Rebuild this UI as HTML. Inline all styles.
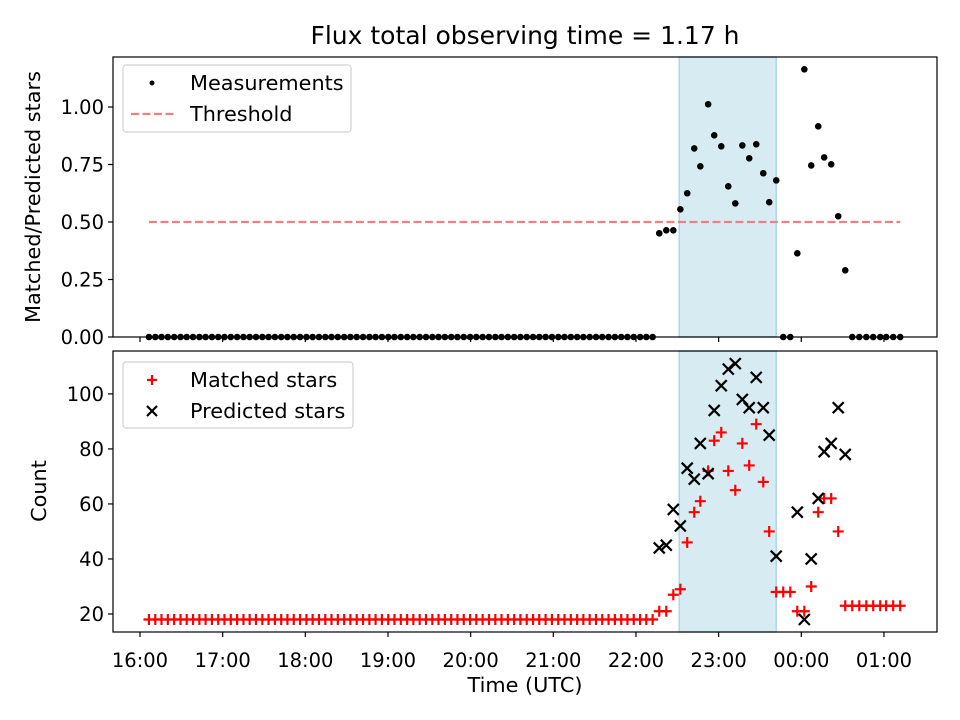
<!DOCTYPE html>
<html><head><meta charset="utf-8">
<style>
html,body{margin:0;padding:0;background:#fff;}
svg{display:block;font-family:"DejaVu Sans","Liberation Sans",sans-serif;}
</style></head>
<body>
<svg id="chart" width="960" height="720" viewBox="0 0 960 720" xmlns="http://www.w3.org/2000/svg">
<text x="525" y="44" font-size="25" text-anchor="middle">Flux total observing time = 1.17 h</text>
<g id="topPanel"></g>
<g id="botPanel"></g>
<text x="525" y="692" font-size="20.8" text-anchor="middle">Time (UTC)</text>
<text transform="translate(40,197) rotate(-90)" font-size="20.8" text-anchor="middle">Matched/Predicted stars</text>
<text transform="translate(46,491) rotate(-90)" font-size="20.8" text-anchor="middle">Count</text>
</svg>
<script>
// minutes after 16:00 UTC
const times = [6.5,11.1,15.6,20.2,24.8,29.4,33.9,38.5,43.1,47.6,52.2,56.8,61.3,65.9,70.5,75.1,79.6,84.2,88.8,93.3,97.9,102.5,107.0,111.6,116.2,120.8,125.3,129.9,134.5,139.0,143.6,148.2,152.7,157.3,161.9,166.5,171.0,175.6,180.2,184.7,189.3,193.9,198.4,203.0,207.6,212.2,216.7,221.3,225.9,230.4,235.0,239.6,244.1,248.7,253.3,257.9,262.4,267.0,271.6,276.1,280.7,285.3,289.8,294.4,299.0,303.6,308.1,312.7,317.3,321.8,326.4,331.0,335.5,340.1,344.7,349.3,353.8,358.4,363.0,367.5,372.1,
376.9,382.0,387.1,392.2,397.2,402.3,406.7,412.4,416.8,421.9,427.0,432.1,437.2,442.2,447.3,452.4,456.7,461.8,466.9,472.0,477.1,482.2,487.2,492.3,496.6,501.7,506.8,511.9,517.0,522.1,527.2,532.2,537.3,541.6,546.7,551.8];
const ratios = [0,0,0,0,0,0,0,0,0,0,0,0,0,0,0,0,0,0,0,0,0,0,0,0,0,0,0,0,0,0,0,0,0,0,0,0,0,0,0,0,0,0,0,0,0,0,0,0,0,0,0,0,0,0,0,0,0,0,0,0,0,0,0,0,0,0,0,0,0,0,0,0,0,0,0,0,0,0,0,0,0,
0.451,0.464,0.464,0.555,0.625,0.820,0.742,1.012,0.877,0.829,0.655,0.581,0.833,0.777,0.838,0.712,0.586,0.681,0,0,0.364,1.164,0.746,0.916,0.781,0.751,0.525,0.290,0,0,0,0,0,0,0,0];
const matched = [18,18,18,18,18,18,18,18,18,18,18,18,18,18,18,18,18,18,18,18,18,18,18,18,18,18,18,18,18,18,18,18,18,18,18,18,18,18,18,18,18,18,18,18,18,18,18,18,18,18,18,18,18,18,18,18,18,18,18,18,18,18,18,18,18,18,18,18,18,18,18,18,18,18,18,18,18,18,18,18,18,
21,21,27,29,46,57,61,72,83,86,72,65,82,74,89,68,50,28,28,28,21,21,30,57,62,62,50,23,23,23,23,23,23,23,23,23];
const predicted = [null,null,null,null,null,null,null,null,null,null,null,null,null,null,null,null,null,null,null,null,null,null,null,null,null,null,null,null,null,null,null,null,null,null,null,null,null,null,null,null,null,null,null,null,null,null,null,null,null,null,null,null,null,null,null,null,null,null,null,null,null,null,null,null,null,null,null,null,null,null,null,null,null,null,null,null,null,null,null,null,null,
44,45,58,52,73,69,82,71,94,103,109,111,98,95,106,95,85,41,null,null,57,18,40,62,79,82,95,78,null,null,null,null,null,null,null,null];
const threshold = 0.5;
const windowSpan = [391.4, 461.8];
const xTickLabels = ["16:00","17:00","18:00","19:00","20:00","21:00","22:00","23:00","00:00","01:00"];
const topTicks = [0,0.25,0.5,0.75,1.0];
const botTicks = [20,40,60,80,100];

const NS="http://www.w3.org/2000/svg";
const L=113,R=937;
const xMin=-19.6,xMax=578.5;
const X=m=>L+(m-xMin)/(xMax-xMin)*(R-L);
const TT=57,TB=337, BT=351,BB=632;
const Yt=v=>TB-v/1.2174*(TB-TT);
const yBmin=13.45,yBmax=115.6;
const Yb=v=>BB-(v-yBmin)/(yBmax-yBmin)*(BB-BT);
const TICKFS=19.5, LEGFS=20.8;
function mk(parent,tag,attrs){const e=document.createElementNS(NS,tag);for(const k in attrs)e.setAttribute(k,attrs[k]);parent.appendChild(e);return e;}
const topG=document.getElementById('topPanel'), botG=document.getElementById('botPanel');

function frame(g,t,b,ticks,Y,fmt,name){
  const band=mk(g,'rect',{x:X(windowSpan[0]),y:t,width:X(windowSpan[1])-X(windowSpan[0]),height:b-t,fill:'#add8e6','fill-opacity':0.5,stroke:'#add8e6','stroke-width':1.5});
  
  
  ticks.forEach(v=>{
    const y=Y(v);
    mk(g,'line',{x1:L-5,x2:L,y1:y,y2:y,stroke:'#000','stroke-width':1.2});
    const tx=mk(g,'text',{x:L-9,y:y+7,'font-size':TICKFS,'text-anchor':'end'});
    tx.textContent=fmt(v);
    
    
  });
  xTickLabels.forEach((s,i)=>{
    const x=X(i*60);
    mk(g,'line',{x1:x,x2:x,y1:b,y2:b+5,stroke:'#000','stroke-width':1.2});
    if(name==='bottom'){
      const tx=mk(g,'text',{x:x,y:b+35,'font-size':TICKFS,'text-anchor':'middle'});
      tx.textContent=s;
      
      
    }
  });
}
frame(topG,TT,TB,topTicks,Yt,v=>v.toFixed(2),'top');
frame(botG,BT,BB,botTicks,Yb,v=>String(v),'bottom');

const th=mk(topG,'line',{x1:X(times[0]),x2:X(times[times.length-1]),y1:Yt(threshold),y2:Yt(threshold),stroke:'#f08080','stroke-width':2.2,'stroke-dasharray':'8,3.5'});


times.forEach((t,i)=>{
  const c=mk(topG,'circle',{cx:X(t),cy:Yt(ratios[i]),r:3.3,fill:'#000'});
  
  
});
times.forEach((t,i)=>{
  const x=X(t),y=Yb(matched[i]);
  const p=mk(botG,'path',{d:`M${x-5.5},${y}H${x+5.5}M${x},${y-5.5}V${y+5.5}`,stroke:'#ff0000','stroke-width':2.2,fill:'none'});
  
  
});
times.forEach((t,i)=>{
  if(predicted[i]===null)return;
  const x=X(t),y=Yb(predicted[i]),d=5.5;
  const p=mk(botG,'path',{d:`M${x-d},${y-d}L${x+d},${y+d}M${x-d},${y+d}L${x+d},${y-d}`,stroke:'#000','stroke-width':2.2,fill:'none'});
  
  
});
[[TT,TB,topG],[BT,BB,botG]].forEach(([t,b,g])=>{
  const r=mk(g,'rect',{x:L,y:t,width:R-L,height:b-t,fill:'none',stroke:'#000','stroke-width':1.2});
  
  
});
function legend(g,x,y,w,h,items,name){
  const box=mk(g,'rect',{x:x,y:y,width:w,height:h,rx:3,fill:'#fff','fill-opacity':0.8,stroke:'#d0d0d0','stroke-width':1.2});
  
  
  items.forEach((it,i)=>{
    const cy=y+18+i*31;
    it.draw(cy);
    const tx=mk(g,'text',{x:x+67,y:cy+7,'font-size':LEGFS});
    tx.textContent=it.label;
    
    
  });
}
legend(topG,123,65,228,67,[
  {label:'Measurements',draw:cy=>mk(topG,'circle',{cx:152,cy:cy,r:2.5,fill:'#000'})},
  {label:'Threshold',draw:cy=>mk(topG,'line',{x1:131,x2:174,y1:cy,y2:cy,stroke:'#f08080','stroke-width':2.2,'stroke-dasharray':'8,3.5'})}
],'top-legend');
legend(botG,123,362,230,66,[
  {label:'Matched stars',draw:cy=>mk(botG,'path',{d:`M${147},${cy}H${157}M${152},${cy-5}V${cy+5}`,stroke:'#ff0000','stroke-width':2.2})},
  {label:'Predicted stars',draw:cy=>mk(botG,'path',{d:`M${147},${cy-5}L${157},${cy+5}M${147},${cy+5}L${157},${cy-5}`,stroke:'#000','stroke-width':2.2})}
],'bottom-legend');
</script>
</body></html>
